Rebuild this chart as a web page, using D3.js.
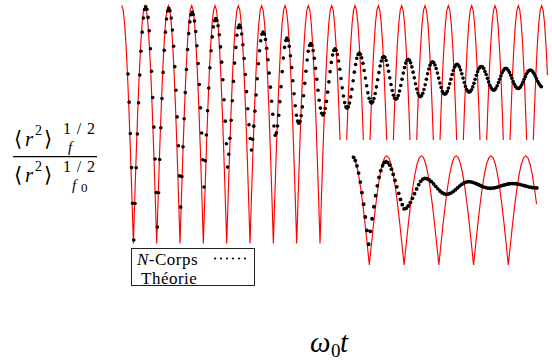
<!DOCTYPE html>
<html><head><meta charset="utf-8">
<script src="https://cdn.jsdelivr.net/npm/d3@7"></script>
<style>html,body{margin:0;padding:0;background:#fff;} svg{display:block;}</style>
</head><body>
<svg id="chart" width="552" height="364"></svg>
<script>
// ---- DATA ----
// Theory curve (main panel and inset), sampled every 1/16 of an oscillation (t in units of the theory period)
const theoryStep = 1 / 16;
const theoryMain = [
1,.981,.924,.831,.707,.556,.383,.195,0,.195,.383,.556,.707,.831,.924,.981,
1,.981,.924,.831,.707,.556,.383,.195,0,.195,.383,.556,.707,.831,.924,.981,
1,.981,.924,.831,.707,.556,.383,.195,0,.195,.383,.556,.707,.831,.924,.981,
1,.981,.924,.831,.707,.556,.383,.195,0,.195,.383,.556,.707,.831,.924,.981,
1,.981,.924,.831,.707,.556,.383,.195,0,.195,.383,.556,.707,.831,.924,.981,
1,.981,.924,.831,.707,.556,.383,.195,0,.195,.383,.556,.707,.831,.924,.981,
1,.981,.924,.831,.707,.556,.383,.195,0,.195,.383,.556,.707,.831,.924,.981,
1,.981,.924,.831,.707,.556,.383,.195,0,.195,.383,.556,.707,.831,.924,.981,
1,.981,.924,.831,.707,.556,.383,.195,0,.195,.383,.556,.707,.831,.924,.981,
1,.981,.924,.831,.707,.556,.383,.195,0,.195,.383,.556,.707,.831,.924,.981,
1,.981,.924,.831,.707,.556,.383,.195,0,.195,.383,.556,.707,.831,.924,.981,
1,.981,.924,.831,.707,.556,.383,.195,0,.195,.383,.556,.707,.831,.924,.981,
1,.981,.924,.831,.707,.556,.383,.195,0,.195,.383,.556,.707,.831,.924,.981,
1,.981,.924,.831,.707,.556,.383,.195,0,.195,.383,.556,.707,.831,.924,.981,
1,.981,.924,.831,.707,.556,.383,.195,0,.195,.383,.556,.707,.831,.924,.981,
1,.981,.924,.831,.707,.556,.383,.195,0,.195,.383,.556,.707,.831,.924,.981,
1,.981,.924,.831,.707,.556,.383,.195,0,.195,.383,.556,.707,.831,.924,.981,
1,.981,.924,.831,.707,.556,.383,.195,0,.195,.383,.556,.707,.831,.924,.981,
1,.981,.924,.831,.707
];
const theoryInset = [
1,.981,.924,.831,.707,.556,.383,.195,0,.195,.383,.556,.707,.831,.924,.981,
1,.981,.924,.831,.707,.556,.383,.195,0,.195,.383,.556,.707,.831,.924,.981,
1,.981,.924,.831,.707,.556,.383,.195,0,.195,.383,.556,.707,.831,.924,.981,
1,.981,.924,.831,.707,.556,.383,.195,0,.195,.383,.556,.707,.831,.924,.981,
1,.981,.924,.831,.707,.556,.383,.195,0,.195,.383,.556,.707,.831,.924,.981,
1,.981,.924,.831,.707,.556
];
// N-body simulation points [t, ratio]
const nbodyMain = [
[.27,.712],[.32,.594],[.37,.462],[.42,.319],[.47,.169],
[.52,.015],[.571,.168],[.622,.318],[.673,.460],[.724,.591],[.775,.708],[.826,.808],[.877,.888],[.928,.947],[.979,.983],
[1.03,.995],[1.08,.984],[1.13,.950],[1.18,.894],[1.23,.818],[1.28,.724],[1.33,.613],[1.38,.489],[1.43,.355],[1.48,.214],
[1.53,.069],[1.579,.213],[1.628,.353],[1.677,.486],[1.726,.609],[1.775,.719],[1.824,.812],[1.873,.888],[1.922,.943],[1.971,.977],
[2.02,.988],[2.071,.978],[2.122,.947],[2.173,.897],[2.224,.829],[2.275,.743],[2.326,.644],[2.377,.532],[2.428,.411],[2.479,.284],
[2.53,.153],[2.579,.281],[2.628,.406],[2.677,.524],[2.726,.634],[2.775,.731],[2.824,.815],[2.873,.882],[2.922,.931],[2.971,.961],
[3.02,.971],[3.071,.962],[3.122,.935],[3.173,.891],[3.224,.831],[3.275,.756],[3.326,.668],[3.377,.570],[3.428,.464],[3.479,.352],
[3.53,.237],[3.58,.348],[3.63,.456],[3.68,.558],[3.73,.653],[3.78,.738],[3.83,.810],[3.88,.868],[3.93,.910],[3.98,.936],
[4.03,.945],[4.081,.937],[4.132,.915],[4.183,.877],[4.234,.826],[4.285,.762],[4.336,.688],[4.387,.604],[4.438,.514],[4.489,.419],
[4.54,.321],[4.59,.375],[4.64,.442],[4.69,.518],[4.74,.600],[4.79,.681],[4.84,.758],[4.89,.824],[4.94,.875],[4.99,.907],
[5.04,.918],[5.092,.908],[5.144,.880],[5.196,.835],[5.248,.777],[5.3,.710],[5.352,.638],[5.404,.566],[5.456,.499],[5.508,.441],
[5.56,.393],[5.61,.438],[5.66,.493],[5.71,.556],[5.76,.624],[5.81,.692],[5.86,.755],[5.91,.810],[5.96,.852],[6.01,.879],
[6.06,.888],[6.112,.880],[6.164,.857],[6.216,.820],[6.268,.772],[6.32,.716],[6.372,.657],[6.424,.598],[6.476,.543],[6.528,.494],
[6.58,.455],[6.63,.465],[6.68,.494],[6.73,.539],[6.78,.596],[6.83,.659],[6.88,.722],[6.93,.779],[6.98,.824],[7.03,.853],
[7.08,.863],[7.131,.854],[7.182,.829],[7.233,.789],[7.284,.739],[7.335,.684],[7.386,.629],[7.437,.579],[7.488,.539],[7.539,.514],
[7.59,.505],[7.641,.513],[7.692,.537],[7.743,.574],[7.794,.621],[7.845,.673],[7.896,.724],[7.947,.771],[7.998,.808],[8.049,.832],
[8.1,.840],[8.152,.833],[8.204,.811],[8.256,.778],[8.308,.736],[8.36,.690],[8.412,.644],[8.464,.602],[8.516,.569],[8.568,.547],
[8.62,.540],[8.672,.547],[8.724,.567],[8.776,.597],[8.828,.636],[8.88,.679],[8.932,.722],[8.984,.761],[9.036,.792],[9.088,.811],
[9.14,.818],[9.192,.812],[9.244,.794],[9.296,.767],[9.348,.732],[9.4,.693],[9.452,.654],[9.504,.620],[9.556,.592],[9.608,.574],
[9.66,.568],[9.712,.574],[9.764,.590],[9.816,.616],[9.868,.648],[9.92,.684],[9.972,.720],[10.024,.752],[10.076,.778],[10.128,.794],
[10.18,.800],[10.233,.795],[10.286,.780],[10.339,.757],[10.392,.727],[10.445,.695],[10.498,.663],[10.551,.633],[10.604,.610],[10.657,.595],
[10.71,.590],[10.762,.595],[10.814,.609],[10.866,.630],[10.918,.658],[10.97,.688],[11.022,.718],[11.074,.746],[11.126,.767],[11.178,.781],
[11.23,.786],[11.282,.782],[11.334,.769],[11.386,.749],[11.438,.724],[11.49,.696],[11.542,.668],[11.594,.643],[11.646,.623],[11.698,.610],
[11.75,.606],[11.803,.610],[11.856,.622],[11.909,.641],[11.962,.664],[12.015,.690],[12.068,.716],[12.121,.739],[12.174,.758],[12.227,.770],
[12.28,.774],[12.332,.770],[12.384,.759],[12.436,.742],[12.488,.720],[12.54,.696],[12.592,.671],[12.644,.649],[12.696,.632],[12.748,.621],
[12.8,.617],[12.852,.621],[12.904,.631],[12.956,.647],[13.008,.667],[13.06,.690],[13.112,.713],[13.164,.733],[13.216,.749],[13.268,.759],
[13.32,.763],[13.373,.760],[13.426,.750],[13.479,.735],[13.532,.716],[13.585,.695],[13.638,.674],[13.691,.655],[13.744,.640],[13.797,.630],
[13.85,.627],[13.902,.630],[13.954,.639],[14.006,.653],[14.058,.671],[14.11,.690],[14.162,.710],[14.214,.727],[14.266,.741],[14.318,.750],
[14.37,.753],[14.422,.750],[14.474,.742],[14.526,.729],[14.578,.713],[14.63,.695],[14.682,.676],[14.734,.660],[14.786,.647],[14.838,.639],
[14.89,.636],[14.942,.639],[14.994,.646],[15.046,.658],[15.098,.673],[15.15,.690],[15.202,.707],[15.254,.722],[15.306,.734],[15.358,.741],
[15.41,.744],[15.463,.742],[15.516,.735],[15.569,.723],[15.622,.710],[15.675,.694],[15.728,.679],[15.781,.665],[15.834,.654],[15.887,.647],
[15.94,.644],[15.992,.646],[16.044,.653],[16.096,.663],[16.148,.676],[16.2,.690],[16.252,.704],[16.304,.717],[16.356,.727],[16.408,.734],
[16.46,.736],[16.513,.734],[16.566,.728],[16.619,.719],[16.672,.707],[16.725,.694],[16.778,.680],[16.831,.669],[16.884,.659],[16.937,.653],
[16.99,.651],[17.042,.653],[17.094,.658],[17.146,.667],[17.198,.678],[17.25,.690],[17.302,.702],[17.354,.713],[17.406,.722],[17.458,.727],
[17.51,.729],[17.563,.727],[17.616,.722],[17.669,.714],[17.722,.704],[17.775,.693],[17.828,.682],[17.881,.672],[17.934,.664],[17.987,.659]
];
const nbodyInset = [
[.048,.985],[.096,.956],[.144,.907],[.192,.841],[.24,.759],[.288,.663],[.336,.556],[.384,.439],[.432,.316],
[.48,.19],[.53,.308],[.58,.423],[.63,.533],[.68,.634],[.73,.724],[.78,.801],[.83,.863],[.88,.908],[.93,.936],
[.98,.945],[1.032,.937],[1.084,.914],[1.136,.877],[1.188,.829],[1.24,.774],[1.292,.715],[1.344,.656],[1.396,.600],[1.448,.552],
[1.5,.513],[1.56,.520],[1.62,.540],[1.68,.571],[1.74,.610],[1.8,.653],[1.86,.696],[1.92,.735],[1.98,.766],[2.04,.786],
[2.1,.793],[2.162,.789],[2.224,.779],[2.286,.763],[2.348,.743],[2.41,.720],[2.472,.697],[2.534,.677],[2.596,.661],[2.658,.651],
[2.72,.647],[2.783,.650],[2.846,.658],[2.909,.671],[2.972,.687],[3.035,.705],[3.098,.722],[3.161,.738],[3.224,.751],[3.287,.759],
[3.35,.762],[3.412,.761],[3.474,.756],[3.536,.750],[3.598,.741],[3.66,.732],[3.722,.723],[3.784,.714],[3.846,.708],[3.908,.704],
[3.97,.702],[4.035,.703],[4.1,.706],[4.165,.711],[4.23,.717],[4.295,.724],[4.36,.730],[4.425,.736],[4.49,.741],[4.555,.744],
[4.62,.745],[4.69,.744],[4.76,.741],[4.83,.737],[4.9,.731],[4.97,.725],[5.04,.719],[5.11,.713],[5.18,.709],[5.25,.706],[5.32,.705]
];
const legendLabels = ["-Corps", "Théorie"];
const legendMathVar = "N";

// ---- DRAWING ----
const svg = d3.select("#chart");
const SERIF = "'Liberation Serif','DejaVu Serif',serif";
const BRACKET = "'DejaVu Serif','DejaVu Sans',serif";
const RED = "#ff0000";

const xMain = d3.scaleLinear().domain([0, 18.25]).range([121.7, 547.5]);
const yMain = d3.scaleLinear().domain([0, 1]).range([243.5, 5.5]);
const xIn = d3.scaleLinear().domain([0, 5.375]).range([351.95, 538.73]);
const yIn = d3.scaleLinear().domain([0, 1]).range([265, 155.7]);

function theoryLine(xs, ys) {
  return d3.line().x((d, i) => xs(i * theoryStep)).y(d => ys(d));
}

// main panel
svg.append("path").datum(theoryMain)
  .attr("d", theoryLine(xMain, yMain))
  .attr("fill", "none").attr("stroke", RED).attr("stroke-width", 1.15);
svg.append("g").selectAll("circle").data(nbodyMain).join("circle")
  .attr("cx", d => xMain(d[0])).attr("cy", d => yMain(d[1]))
  .attr("r", 1.8).attr("fill", "#000");

// inset panel (white background hides the main curve behind it)
svg.append("rect").attr("x", 330).attr("y", 140).attr("width", 222).attr("height", 150).attr("fill", "#fff");
svg.append("path").datum(theoryInset)
  .attr("d", theoryLine(xIn, yIn))
  .attr("fill", "none").attr("stroke", RED).attr("stroke-width", 1.15);
svg.append("g").selectAll("circle").data(nbodyInset).join("circle")
  .attr("cx", d => xIn(d[0])).attr("cy", d => yIn(d[1]))
  .attr("r", 1.9).attr("fill", "#000");

// legend
const lg = svg.append("g");
lg.append("rect").attr("x", 131.5).attr("y", 248.5).attr("width", 123).attr("height", 37)
  .attr("fill", "#fff").attr("stroke", "#222").attr("stroke-width", 1);
const t1 = lg.append("text").attr("x", 137).attr("y", 264.5).attr("font-family", SERIF)
  .attr("font-size", 17).attr("letter-spacing", 0.5).attr("fill", "#000");
t1.append("tspan").attr("font-style", "italic").text(legendMathVar);
t1.append("tspan").text(legendLabels[0]);
lg.append("line").attr("x1", 215).attr("x2", 251).attr("y1", 258.5).attr("y2", 258.5)
  .attr("stroke", "#000").attr("stroke-width", 2.2).attr("stroke-linecap", "round")
  .attr("stroke-dasharray", "0,6");
lg.append("text").attr("x", 141).attr("y", 283.8).attr("font-family", SERIF).attr("font-size", 17)
  .attr("letter-spacing", 0.5).attr("fill", "#000").text(legendLabels[1]);

// y label: <r^2>^{1/2}_f / <r^2>^{1/2}_{f0}
function txt(s, x, y, size, italic, fam) {
  return svg.append("text").attr("x", x).attr("y", y).attr("font-family", fam || SERIF)
    .attr("font-size", size).attr("font-style", italic ? "italic" : "normal").attr("fill", "#000").text(s);
}
function ratioTerm(yb, supY, subY, sub, subSub) {
  txt("\u27E8", 14, yb, 21, false, BRACKET);
  txt("r", 25, yb, 21, true);
  txt("2", 35, yb - 11, 14, false);
  txt("\u27E9", 44, yb, 21, false, BRACKET);
  txt("1/2", 63, supY, 16, false).attr("textLength", 32).attr("lengthAdjust", "spacing");
  txt(sub, subSub ? 72 : 68, subY, 15, true);
  if (subSub) txt(subSub, 81, subY + 2, 13, false);
}
ratioTerm(146, 134, 151.5, "f", null);
svg.append("line").attr("x1", 13).attr("x2", 97).attr("y1", 156.7).attr("y2", 156.7)
  .attr("stroke", "#000").attr("stroke-width", 1.2);
ratioTerm(182, 172, 190, "f", "0");

// x label
txt("\u03C9", 310, 352, 29, true);
txt("0", 331, 357, 19, false);
txt("t", 340, 352, 29, true);
</script>
</body></html>
